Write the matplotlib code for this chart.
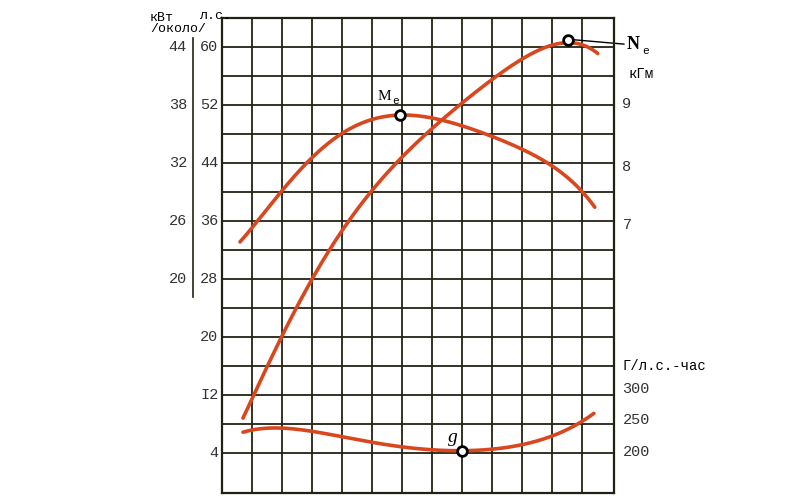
import numpy as np
import matplotlib.pyplot as plt

# curves in grid units: x = column index (0..13), y = horsepower scale
ne_x = [0.7, 2.6, 4.27, 5.93, 7.6, 9.27, 10.6, 11.53, 12.1, 12.53]
ne_y = [8.8, 25.1, 36.1, 44.4, 51.3, 56.1, 59.3, 61.0, 60.3, 58.9]
me_x = [0.6, 1.6, 2.6, 3.93, 4.93, 5.93, 7.6, 9.27, 10.93, 11.93, 12.43]
me_y = [33.1, 38.2, 43.0, 47.9, 49.9, 50.6, 49.7, 47.2, 43.7, 40.6, 37.8]
g_x = [0.7, 1.93, 3.27, 4.93, 6.6, 8.0, 9.27, 10.6, 11.6, 12.4]
g_y = [6.9, 7.4, 6.9, 5.5, 4.6, 4.3, 4.7, 5.8, 7.4, 9.5]
hp_ticks = [60, 52, 44, 36, 28, 20, 12, 4]
hp_labels = ["60", "52", "44", "36", "28", "20", "I2", "4"]
kw_ticks = [60, 52, 44, 36, 28]
kw_labels = ["44", "38", "32", "26", "20"]
kgm_ticks = [52.2, 43.5, 35.5]
kgm_labels = ["9", "8", "7"]
gph_ticks = [12.9, 8.5, 4.1]
gph_labels = ["300", "250", "200"]

RED = "#d9471f"
INK = "#222214"
FONT = "Liberation Mono"

fig = plt.figure(figsize=(8, 5), dpi=100)
ax = fig.add_axes([222 / 800, 1 - 493 / 500, 392 / 800, 475 / 500])
ax.set_xlim(0, 13.07)
ax.set_ylim(-1.5, 64)
for x in range(1, 13):
    ax.axvline(x, color=INK, lw=1.3)
for y in range(4, 64, 4):
    ax.axhline(y, color=INK, lw=1.3)
for s in ax.spines.values():
    s.set_color(INK)
    s.set_linewidth(1.6)
ax.set_xticks([])
ax.set_yticks([])


def smooth(xs, ys):
    t = np.linspace(xs[0], xs[-1], 200)
    c = np.polyfit(xs, ys, min(5, len(xs) - 2))
    return t, np.polyval(c, t)


for xs, ys in [(ne_x, ne_y), (me_x, me_y), (g_x, g_y)]:
    t, v = smooth(xs, ys)
    ax.plot(t, v, color=RED, lw=2.6, solid_capstyle="round")

for px, py in [(ne_x[7], ne_y[7]), (me_x[5], me_y[5]), (g_x[5], g_y[5])]:
    ax.plot(px, py, "o", ms=7, mfc="white", mec="black", mew=2, zorder=5)

ax.plot([ne_x[7] + 0.2, 13.4], [ne_y[7], ne_y[7] - 0.6], color="black", lw=1, clip_on=False)
ax.text(13.5, ne_y[7] - 0.7, "N", fontsize=13, fontweight="bold", family="Liberation Serif", va="center")
ax.text(14.0, ne_y[7] - 1.5, "e", fontsize=8, family=FONT, va="center")
ax.text(me_x[5] - 0.75, me_y[5] + 2.6, "M", fontsize=11, family="Liberation Serif", va="center")
ax.text(me_x[5] - 0.25, me_y[5] + 1.9, "e", fontsize=8, family=FONT, va="center")
ax.text(g_x[5] - 0.45, g_y[5] + 1.8, "g", fontsize=14, style="italic", family="Liberation Serif", va="center")

tc = dict(fontsize=11, family=FONT, color="#333", va="center")
for y, lab in zip(hp_ticks, hp_labels):
    ax.text(-0.12, y, lab, ha="right", **tc)
for y, lab in zip(kw_ticks, kw_labels):
    ax.text(-1.17, y, lab, ha="right", **tc)
ax.plot([-0.97, -0.97], [61.3, 25.5], color=INK, lw=1.2, clip_on=False)
for y, lab in zip(kgm_ticks, kgm_labels):
    ax.text(13.35, y, lab, ha="left", **tc)
for y, lab in zip(gph_ticks, gph_labels):
    ax.text(13.35, y, lab, ha="left", **tc)
ax.text(13.55, 56.3, "кГм", fontsize=10, family=FONT, va="center")
ax.text(13.35, 16.0, "Г/л.с.-час", fontsize=10, family=FONT, va="center")
ax.text(-2.4, 63.3, "кВт\n/около/", fontsize=9.5, family=FONT, va="center", linespacing=0.9)
ax.text(-0.75, 64.3, "л.с.", fontsize=9.5, family=FONT, va="center")

fig.savefig("out.png", dpi=100, facecolor="white")
